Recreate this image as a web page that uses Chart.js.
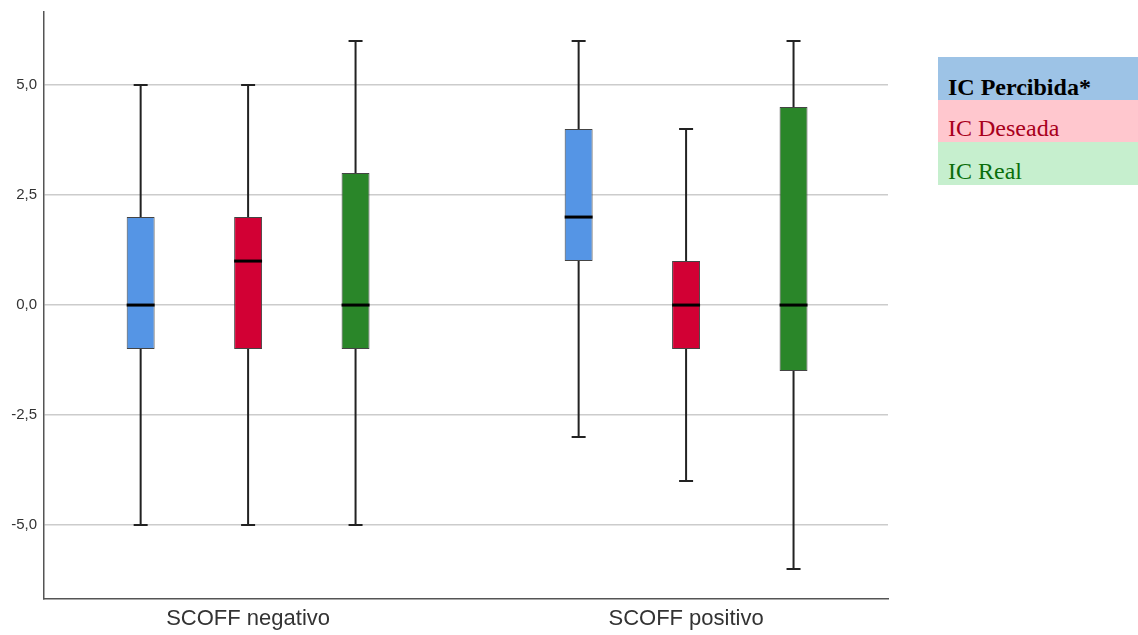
<!DOCTYPE html>
<html lang="es">
<head>
<meta charset="UTF-8">
<title>IC por SCOFF</title>
<script src="https://cdn.jsdelivr.net/npm/chart.js"></script>
<style>
    body { margin: 0; background: #fff; }
    .wrap { position: relative; width: 1138px; height: 635px; }
    .legend { position: absolute; left: 938px; top: 57px; width: 200px; font-family: "Liberation Serif", "Times New Roman", serif; font-size: 24px; }
    .legend div { box-sizing: border-box; padding-left: 10px; line-height: 24px; white-space: nowrap; }
    .r1 { height: 43px; padding-top: 18px; background: #9dc3e6; color: #000; font-weight: bold; }
    .r2 { height: 42px; padding-top: 16px; background: #ffc7ce; color: #a8001c; }
    .r3 { height: 43px; padding-top: 17px; background: #c6efce; color: #0b6e0b; }
</style>
</head>
<body>
<div class="wrap">
    <canvas id="chart" width="1138" height="635"></canvas>
    <div class="legend">
        <div class="r1">IC Percibida*</div>
        <div class="r2">IC Deseada</div>
        <div class="r3">IC Real</div>
    </div>
</div>
<script>
    const categories = ['SCOFF negativo', 'SCOFF positivo'];
    const seriesNames = ['IC Percibida*', 'IC Deseada', 'IC Real'];
    // min, Q1, mediana, Q3, max por categoría
    const icPercibida = [[-5, -1, 0, 2, 5], [-3, 1, 2, 4, 6]];
    const icDeseada = [[-5, -1, 1, 2, 5], [-4, -1, 0, 1, 4]];
    const icReal = [[-5, -1, 0, 3, 6], [-6, -1.5, 0, 4.5, 6]];
    const yTicks = [-5, -2.5, 0, 2.5, 5];

    const series = [icPercibida, icDeseada, icReal];
    const colors = ['#5595e5', '#d20034', '#2a8629'];

    const datasets = series.map((s, k) => ({
        label: seriesNames[k],
        data: s.map((st, i) => ({ x: i, y: [st[1], st[3]] })),
        stats: s,
        backgroundColor: colors[k],
        borderColor: '#444',
        borderWidth: 1,
        borderSkipped: false,
        categoryPercentage: 0.736,
        barPercentage: 0.26
    }));

    const boxPlot = {
        id: 'boxPlot',
        beforeDatasetsDraw(chart) {
            const ctx = chart.ctx;
            const y = chart.scales.y;
            ctx.save();
            ctx.strokeStyle = '#222';
            ctx.lineWidth = 2;
            chart.data.datasets.forEach((ds, di) => {
                chart.getDatasetMeta(di).data.forEach((bar, i) => {
                    const st = ds.stats[i];
                    const yMin = y.getPixelForValue(st[0]);
                    const yMax = y.getPixelForValue(st[4]);
                    ctx.beginPath();
                    ctx.moveTo(bar.x, yMin);
                    ctx.lineTo(bar.x, yMax);
                    ctx.moveTo(bar.x - 7, yMin);
                    ctx.lineTo(bar.x + 7, yMin);
                    ctx.moveTo(bar.x - 7, yMax);
                    ctx.lineTo(bar.x + 7, yMax);
                    ctx.stroke();
                });
            });
            ctx.restore();
        },
        afterDatasetsDraw(chart) {
            const ctx = chart.ctx;
            const y = chart.scales.y;
            ctx.save();
            ctx.strokeStyle = '#000';
            ctx.lineWidth = 3;
            chart.data.datasets.forEach((ds, di) => {
                chart.getDatasetMeta(di).data.forEach((bar, i) => {
                    const ym = y.getPixelForValue(ds.stats[i][2]);
                    ctx.beginPath();
                    ctx.moveTo(bar.x - bar.width / 2, ym);
                    ctx.lineTo(bar.x + bar.width / 2, ym);
                    ctx.stroke();
                });
            });
            ctx.restore();
        }
    };

    new Chart(document.getElementById('chart'), {
        type: 'bar',
        data: { datasets: datasets },
        options: {
            responsive: false,
            animation: false,
            layout: { padding: { top: 12, right: 250, left: 0, bottom: 0 } },
            plugins: { legend: { display: false }, tooltip: { enabled: false } },
            scales: {
                x: {
                    type: 'linear',
                    min: -0.466,
                    max: 1.461,
                    offset: false,
                    grid: { display: false, drawTicks: false },
                    border: { display: true, color: '#555', width: 1.5 },
                    afterBuildTicks: (scale) => { scale.ticks = categories.map((c, i) => ({ value: i })); },
                    afterFit: (scale) => {
                        scale.height = 36;
                        scale.paddingLeft = 0;
                        scale.paddingRight = 0;
                    },
                    ticks: {
                        padding: 7,
                        color: '#333',
                        font: { family: 'Arial, "Liberation Sans", sans-serif', size: 22 },
                        callback: (v) => categories[v]
                    }
                },
                y: {
                    min: -6.68,
                    max: 6.66,
                    afterBuildTicks: (scale) => { scale.ticks = yTicks.map(v => ({ value: v })); },
                    afterFit: (scale) => {
                        scale.width = 44;
                        scale.paddingTop = 0;
                        scale.paddingBottom = 0;
                    },
                    grid: { color: '#cccccc', lineWidth: 1.5, drawTicks: false },
                    border: { display: true, color: '#555', width: 1.5 },
                    ticks: {
                        padding: 7,
                        color: '#333',
                        font: { family: 'Arial, "Liberation Sans", sans-serif', size: 15 },
                        callback: (v) => v.toFixed(1).replace('.', ',')
                    }
                }
            }
        },
        plugins: [boxPlot]
    });
</script>
</body>
</html>
